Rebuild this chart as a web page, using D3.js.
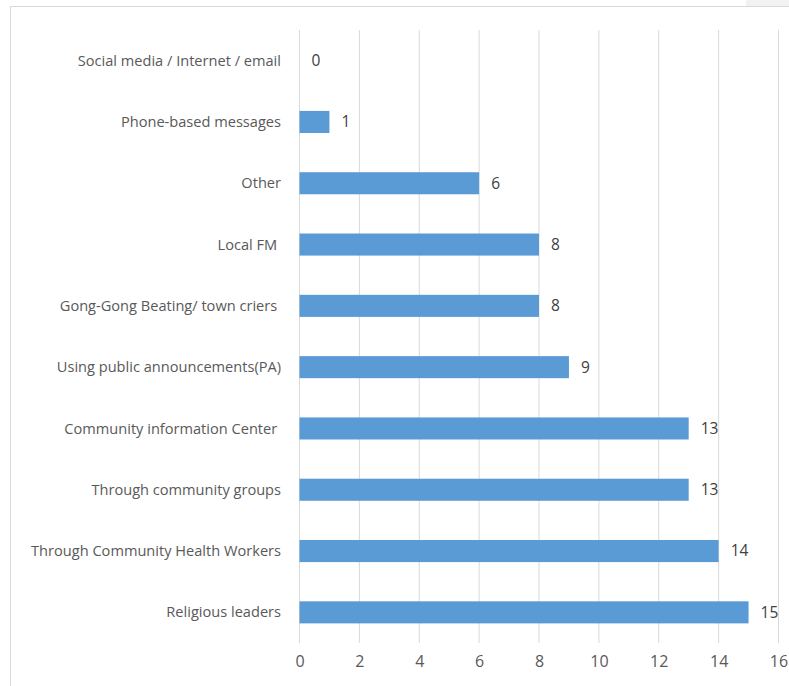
<!DOCTYPE html>
<html>
<head>
<meta charset="utf-8">
<script src="https://cdn.jsdelivr.net/npm/d3@7"></script>
<style>
  body { margin: 0; background: #fff; }
  text { font-family: "Open Sans", sans-serif; white-space: pre; }
</style>
</head>
<body>
<div id="container"></div>
<script>
// Categories (top to bottom) and counts
const categories = [
  "Social media / Internet / email",
  "Phone-based messages",
  "Other",
  "Local FM ",
  "Gong-Gong Beating/ town criers ",
  "Using public announcements(PA)",
  "Community information Center ",
  "Through community groups",
  "Through Community Health Workers",
  "Religious leaders"
];
const counts = [0, 1, 6, 8, 8, 9, 13, 13, 14, 15];
const xTicks = [0, 2, 4, 6, 8, 10, 12, 14, 16];

const width = 789, height = 686;

const svg = d3.select("#container").append("svg")
    .attr("width", width)
    .attr("height", height);

// chart frame
svg.append("rect")
    .attr("x", 10.5).attr("y", 6.5)
    .attr("width", width).attr("height", height)
    .attr("fill", "none")
    .attr("stroke", "#d9d9d9");
svg.append("rect")
    .attr("x", 746).attr("y", 0)
    .attr("width", 43).attr("height", 6)
    .attr("fill", "#f2f2f2");

const x = d3.scaleLinear().domain([0, 16]).range([299.5, 778.5]);
const y = d3.scaleBand().domain(categories).range([30, 643]).paddingInner(0.64).paddingOuter(0.32);

// vertical gridlines
svg.append("g")
  .selectAll("line")
  .data(xTicks)
  .join("line")
    .attr("x1", d => x(d)).attr("x2", d => x(d))
    .attr("y1", 30).attr("y2", 643)
    .attr("stroke", "#d9d9d9")
    .attr("stroke-width", 1);

// bars
svg.append("g")
  .selectAll("rect")
  .data(counts)
  .join("rect")
    .attr("x", x(0))
    .attr("y", (d, i) => y(categories[i]))
    .attr("width", d => x(d) - x(0))
    .attr("height", y.bandwidth())
    .attr("fill", "#5b9bd5");

// value labels
svg.append("g")
  .selectAll("text")
  .data(counts)
  .join("text")
    .attr("x", d => x(d) + 12)
    .attr("y", (d, i) => y(categories[i]) + y.bandwidth() / 2)
    .attr("dy", "0.35em")
    .attr("font-size", 15.5)
    .attr("fill", "#404040")
    .text(d => d);

// category labels
svg.append("g")
  .selectAll("text")
  .data(categories)
  .join("text")
    .attr("x", 281)
    .attr("y", d => y(d) + y.bandwidth() / 2)
    .attr("dy", "0.35em")
    .attr("text-anchor", "end")
    .attr("font-size", 14.6)
    .attr("fill", "#595959")
    .text(d => d);

// x axis labels
const xAxis = d3.axisBottom(x).tickValues(xTicks).tickSize(0).tickPadding(0);
svg.append("g")
    .attr("transform", "translate(0,656)")
    .call(xAxis)
    .call(g => g.select(".domain").remove())
    .call(g => g.selectAll("text")
        .attr("font-family", "Open Sans, sans-serif")
        .attr("font-size", 16)
        .attr("fill", "#595959"));
</script>
</body>
</html>
